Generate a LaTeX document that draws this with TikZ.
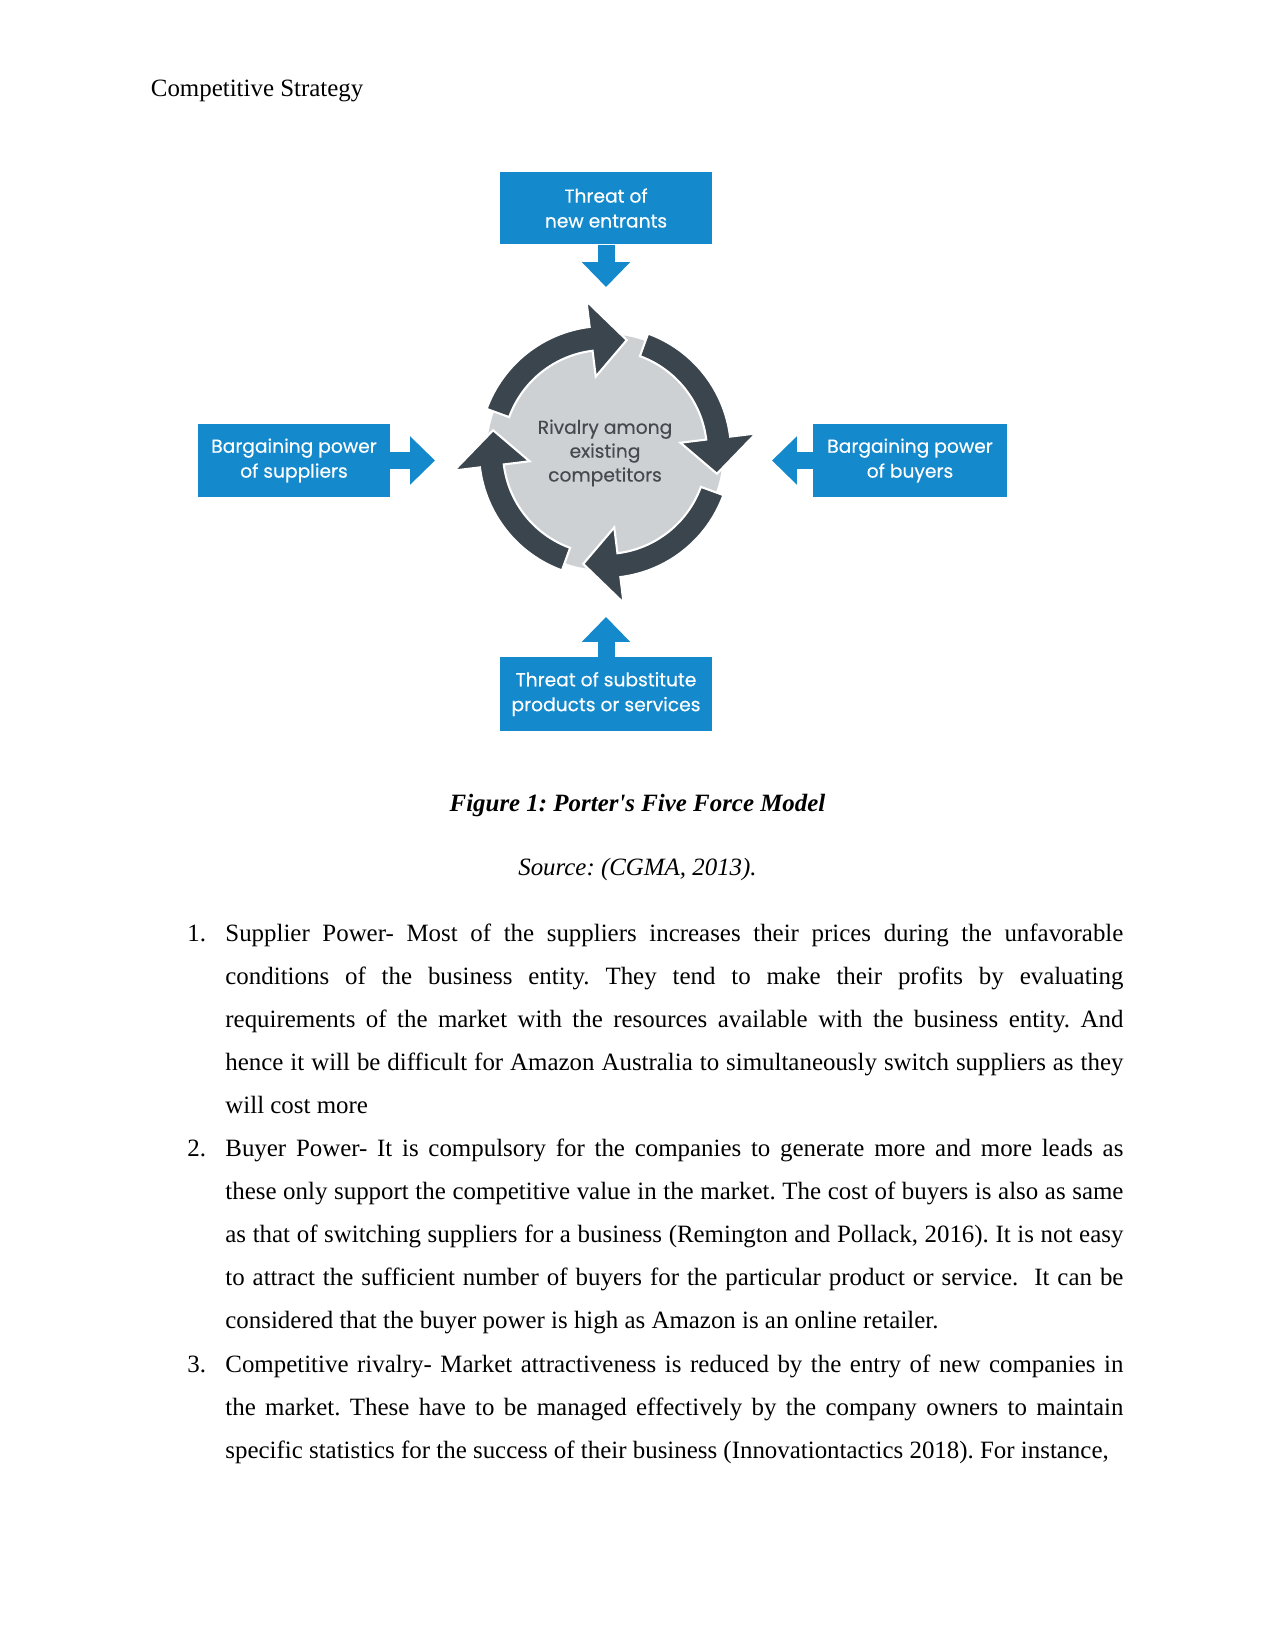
\documentclass[tikz,border=0pt]{standalone}
\usepackage{fontspec}
\setmainfont{Liberation Serif}
\newfontfamily\capfont{Liberation Serif}
\newfontfamily\diagfont[FakeBold=0.3]{Poppins}
\usepackage{xcolor}
\definecolor{forceblue}{RGB}{20,137,204}
\definecolor{ringdark}{RGB}{59,69,77}
\definecolor{rivalgray}{RGB}{206,209,212}
\definecolor{rivalink}{RGB}{70,74,78}
\usepackage{tikz}
\usetikzlibrary{arrows.meta, positioning}
\frenchspacing
\tikzset{
  forcebox/.style={fill=forceblue, text=white, align=center,
    minimum height=35pt, inner sep=0pt,
    font=\diagfont\fontsize{9}{12}\selectfont},
  forcearrow/.style={draw=forceblue, line width=8.2pt,
    -{Triangle[width=22.6pt, length=12pt]}},
  rivalbox/.style={align=center, text=rivalink, inner sep=0pt,
    font=\diagfont\fontsize{9}{11.5}\selectfont},
  bodytext/.style={anchor=base west, text width=432.65pt, align=justify,
    inner sep=0pt, font=\fontsize{12}{20.77}\selectfont},
  numlabel/.style={anchor=base west, inner sep=0pt,
    font=\fontsize{12}{14}\selectfont},
}

\begin{document}
\begin{tikzpicture}[x=0.4818pt, y=-0.4818pt]
  \useasboundingbox (0,0) rectangle (1275,1650);
  \fill[white] (0,0) rectangle (1275,1650);

  % Page header
  \node[numlabel] (header) at (150.5,97) {Competitive Strategy};

  % Rivalry circle
  \begin{scope}[shift={(605,452)}, yscale=-1]
    \fill[rivalgray] (0,0) circle[radius=118];
    \foreach \t in {160,70,-20,-110} {
      \fill[ringdark, draw=white, line width=1pt]
        (\t:126) arc[start angle=\t, end angle=\t-63, radius=126]
        -- (\t-63:152) -- (\t-81:114) -- (\t-63:76) -- (\t-63:102)
        arc[start angle=\t-63, end angle=\t, radius=102] -- cycle;
    }
  \end{scope}
  \node[rivalbox] (rivalry) at (605,453)
    {Rivalry among\\existing\\competitors};

  % Forces
  \node[forcebox, minimum width=102.1pt] (entrants) at (606,208)
    {Threat of\\new entrants};
  \node[forcebox, minimum width=92.5pt] (suppliers) at (294,460.5)
    {Bargaining power\\of suppliers};
  \node[forcebox, minimum width=93.5pt] (buyers) at (910,460.5)
    {Bargaining power\\of buyers};
  \node[forcebox, minimum width=102.1pt, minimum height=35.7pt]
    (substitutes) at (606,694)
    {Threat of substitute\\products or services};

  % Arrows into the circle
  \coordinate (entrantstip) at (606,287);
  \coordinate (supplierstip) at (435,460.5);
  \coordinate (buyerstip) at (772,460.5);
  \coordinate (substitutestip) at (606,617);
  \foreach \a in {entrants, suppliers, buyers, substitutes} {
    \draw[forcearrow] (\a) -- (\a tip);
  }

  % Caption
  \node[numlabel, anchor=base, font=\capfont\fontsize{12}{14}\selectfont\bfseries\itshape]
    (caption) at (637.5,811) {Figure 1: Porter's Five Force Model};
  \node[numlabel, anchor=base, font=\fontsize{12}{14}\selectfont\itshape]
    (source) at (637.5,875) {Source: (CGMA, 2013).};

  % List
  \node[numlabel] (num1) at (187,941) {1.};
  \node[bodytext] (item1) at (225,941)
    {Supplier Power- Most of the suppliers increases their prices during the unfavorable\linebreak
     conditions of the business entity. They tend to make their profits by evaluating\linebreak
     requirements of the market with the resources available with the business entity. And\linebreak
     hence it will be difficult for Amazon Australia to simultaneously switch suppliers as they\linebreak
     will cost more};
  \node[numlabel] (num2) at (187,1156.5) {2.};
  \node[bodytext] (item2) at (225,1156.5)
    {Buyer Power- It is compulsory for the companies to generate more and more leads as\linebreak
     these only support the competitive value in the market. The cost of buyers is also as same\linebreak
     as that of switching suppliers for a business (Remington and Pollack, 2016). It is not easy\linebreak
     to attract the sufficient number of buyers for the particular product or service.\ \ It can be\linebreak
     considered that the buyer power is high as Amazon is an online retailer.};
  \node[numlabel] (num3) at (187,1372) {3.};
  \node[bodytext] (item3) at (225,1372)
    {\parfillskip=0pt Competitive rivalry- Market attractiveness is reduced by the entry of new companies in\linebreak
     the market. These have to be managed effectively by the company owners to maintain\linebreak
     specific statistics for the success of their business (Innovationtactics 2018). For instance,};
\end{tikzpicture}
\end{document}
